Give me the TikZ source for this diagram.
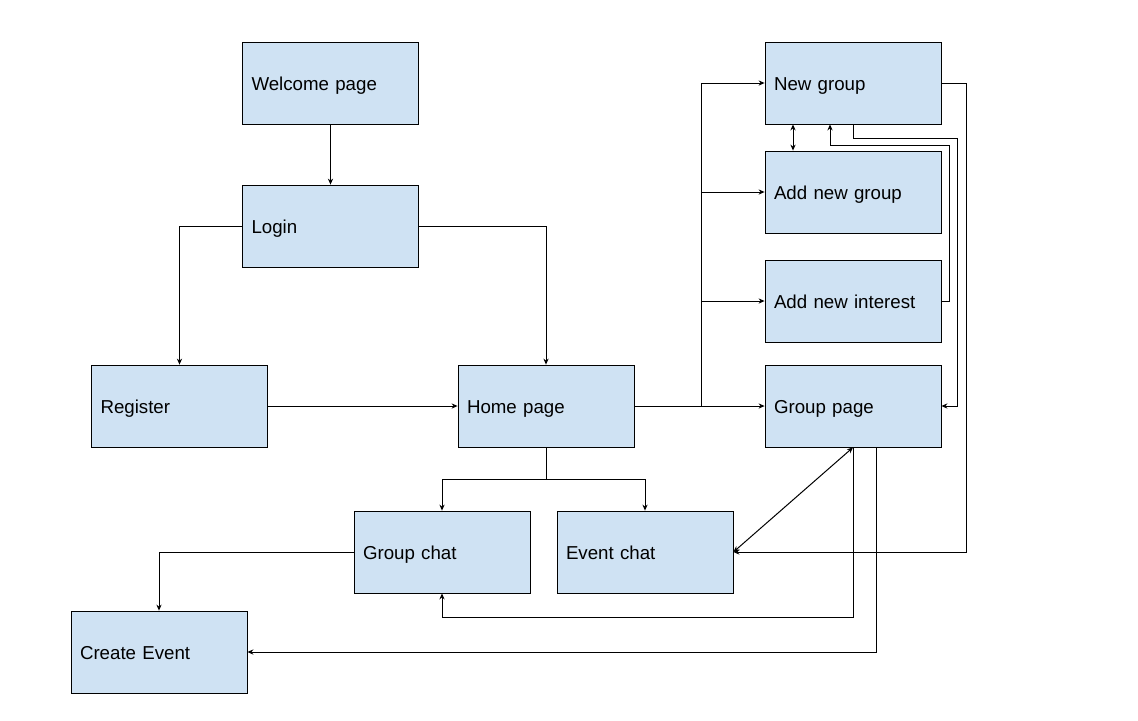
\documentclass[tikz,border=0pt]{standalone}
\usepackage{fontspec}
\setmainfont{Liberation Sans}
\usetikzlibrary{arrows.meta,calc}
\begin{document}
\begin{tikzpicture}[x=0.5pt,y=-0.5pt,
        page/.style={draw=black, fill=pageblue, rectangle, minimum width=88pt,
            minimum height=41pt, text width=79pt, inner xsep=4.5pt, align=left,
            text height=7.5pt, text depth=0pt,
            font=\fontsize{9.35}{11}\selectfont},
        link/.style={draw=black, line width=0.5pt, -{Stealth[length=3pt,width=2.6pt]}},
        twoway/.style={draw=black, line width=0.5pt,
            {Stealth[length=3pt,width=2.6pt]}-{Stealth[length=3pt,width=2.6pt]}},
        plain/.style={draw=black, line width=0.5pt}]
        \definecolor{pageblue}{RGB}{207,226,243}
        \useasboundingbox (0,0) rectangle (1138,720);
        % pages
        \node[page] (welcome) at (330.5,83) {Welcome page};
        \node[page] (login) at (330.5,226) {Login};
        \node[page] (register) at (179.5,406) {Register};
        \node[page] (home) at (546,406) {Home page};
        \node[page] (newgroup) at (853,83) {New group};
        \node[page] (addgroup) at (853,192) {Add new group};
        \node[page] (addinterest) at (853,301) {Add new interest};
        \node[page] (grouppage) at (853,406) {Group page};
        \node[page] (groupchat) at (442,552) {Group chat};
        \node[page] (eventchat) at (645,552) {Event chat};
        \node[page] (createevent) at (159,652) {Create Event};
        % left part
        \draw[link] (welcome) -- (login);
        \draw[link] (login.west) -| (register.north);
        \draw[link] (login.east) -| (home.north);
        \draw[link] (register) -- (home);
        \draw[link] (home) -- (grouppage);
        % branch to the group pages
        \coordinate (split) at (701,406);
        \draw[plain] (split) -- (701,83);
        \foreach \target in {newgroup, addgroup, addinterest}
        {
            \draw[link] (split) |- (\target.west);
        }
        % chats
        \coordinate (fork) at (546,479);
        \draw[plain] (home.south) -- (fork);
        \draw[link] (fork) -| (groupchat.north);
        \draw[link] (fork) -| (eventchat.north);
        \draw[link] (groupchat.west) -| (createevent.north);
        % back links on the right
        \draw[link] (newgroup.east) -- ++(25,0) |- (eventchat.east);
        \draw[link] (newgroup.south) -- ++(0,14) -| (957,406) -- (grouppage.east);
        \draw[link] (addinterest.east) -- ++(8,0) |- (830,145) -- ($(newgroup.south)+(-23,0)$);
        \draw[twoway] ($(newgroup.south)+(-60,0)$) -- ($(addgroup.north)+(-60,0)$);
        \draw[twoway] (eventchat.east) -- (grouppage.south);
        \draw[link] (grouppage.south) -- ++(0,170) -| (groupchat.south);
        \draw[link] ($(grouppage.south)+(23,0)$) |- (createevent.east);
\end{tikzpicture}
\end{document}
